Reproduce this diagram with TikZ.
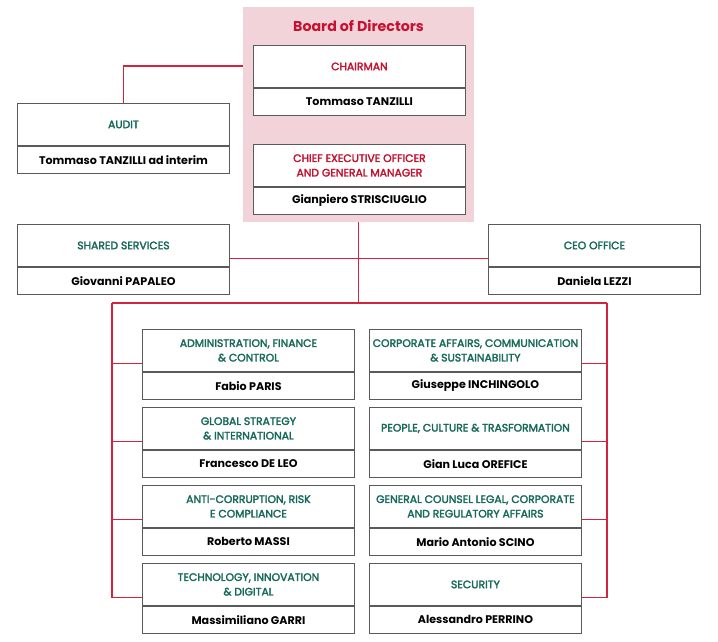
\documentclass[tikz,border=0pt]{standalone}
\usepackage{fontspec}
\setmainfont{Poppins}
\newfontfamily\medfont{Poppins}[FakeBold=2.5]
\definecolor{boardpink}{HTML}{F3D3DA}
\definecolor{linered}{HTML}{D2243F}
\definecolor{titlered}{HTML}{C41230}
\definecolor{hdrgreen}{HTML}{17695A}
\definecolor{boxgray}{HTML}{5A5A5A}
\tikzset{
  hdr/.style={draw=boxgray, fill=white, line width=0.9pt, minimum width=212pt, minimum height=42pt,
    inner sep=0pt, align=center, text=hdrgreen, font=\medfont\fontsize{10.8}{14.5}\selectfont},
  redhdr/.style={text=titlered},
  nm/.style={draw=boxgray, fill=white, line width=0.9pt, minimum width=212pt, minimum height=27pt,
    inner sep=0pt, align=center, text=black, font=\bfseries\fontsize{11.1}{13}\selectfont},
  conn/.style={draw=linered, line width=1.1pt}
}
\newcommand\orgbox[5]{%
  \node[hdr,#5,anchor=north west] (#1) at #2 {#3};
  \node[nm,anchor=north] (#1n) at (#1.south) {#4};
  \coordinate (#1W) at ([yshift=8pt]#1.south west);
  \coordinate (#1E) at ([yshift=8pt]#1.south east);
}
\begin{document}
\begin{tikzpicture}[x=1pt,y=-1pt]
\useasboundingbox (0,0) rectangle (718,642);
\fill[boardpink] (243,7) rectangle (474,222);
\node[text=titlered, font=\bfseries\fontsize{14.2}{17}\selectfont] (board) at (358.5,26) {Board of Directors};
\coordinate (boardW) at (243,66);
\coordinate (boardS) at (358.5,222);

\orgbox{chair}{(253,45)}{CHAIRMAN}{Tommaso TANZILLI}{redhdr}
\orgbox{ceo}{(253,144)}{CHIEF EXECUTIVE OFFICER\\AND GENERAL MANAGER}{Gianpiero STRISCIUGLIO}{redhdr}
\orgbox{audit}{(17,103)}{AUDIT}{Tommaso TANZILLI ad interim}{}
\orgbox{ss}{(17,224)}{SHARED SERVICES}{Giovanni PAPALEO}{}
\orgbox{co}{(488,224)}{CEO OFFICE}{Daniela LEZZI}{}

\orgbox{afc}{(142,329)}{ADMINISTRATION, FINANCE\\\& CONTROL}{Fabio PARIS}{}
\orgbox{gsi}{(142,407)}{GLOBAL STRATEGY\\\& INTERNATIONAL}{Francesco DE LEO}{}
\orgbox{acr}{(142,485)}{ANTI-CORRUPTION, RISK\\E COMPLIANCE}{Roberto MASSI}{}
\orgbox{tid}{(142,563)}{TECHNOLOGY, INNOVATION\\\& DIGITAL}{Massimiliano GARRI}{}

\orgbox{cac}{(369,329)}{CORPORATE AFFAIRS, COMMUNICATION\\\& SUSTAINABILITY}{Giuseppe INCHINGOLO}{}
\orgbox{pct}{(369,407)}{PEOPLE, CULTURE \& TRASFORMATION}{Gian Luca OREFICE}{}
\orgbox{gcl}{(369,485)}{GENERAL COUNSEL LEGAL, CORPORATE\\AND REGULATORY AFFAIRS}{Mario Antonio SCINO}{}
\orgbox{sec}{(369,563)}{SECURITY}{Alessandro PERRINO}{}

\draw[conn] (audit.north) |- (boardW);
\draw[conn] (ssE) -- (coW);
\coordinate (hub) at (358.5,303);
\coordinate (busL) at (112,303);
\coordinate (busR) at (607,303);
\draw[conn] (boardS) -- (hub);
\draw[conn] (busL) -- (busR);
\draw[conn] (busL) |- (tidW);
\draw[conn] (busR) |- (secE);
\foreach \b in {afc,gsi,acr}{\draw[conn] (busL |- \b W) -- (\b W);}
\foreach \b in {cac,pct,gcl}{\draw[conn] (busR |- \b E) -- (\b E);}
\end{tikzpicture}
\end{document}
